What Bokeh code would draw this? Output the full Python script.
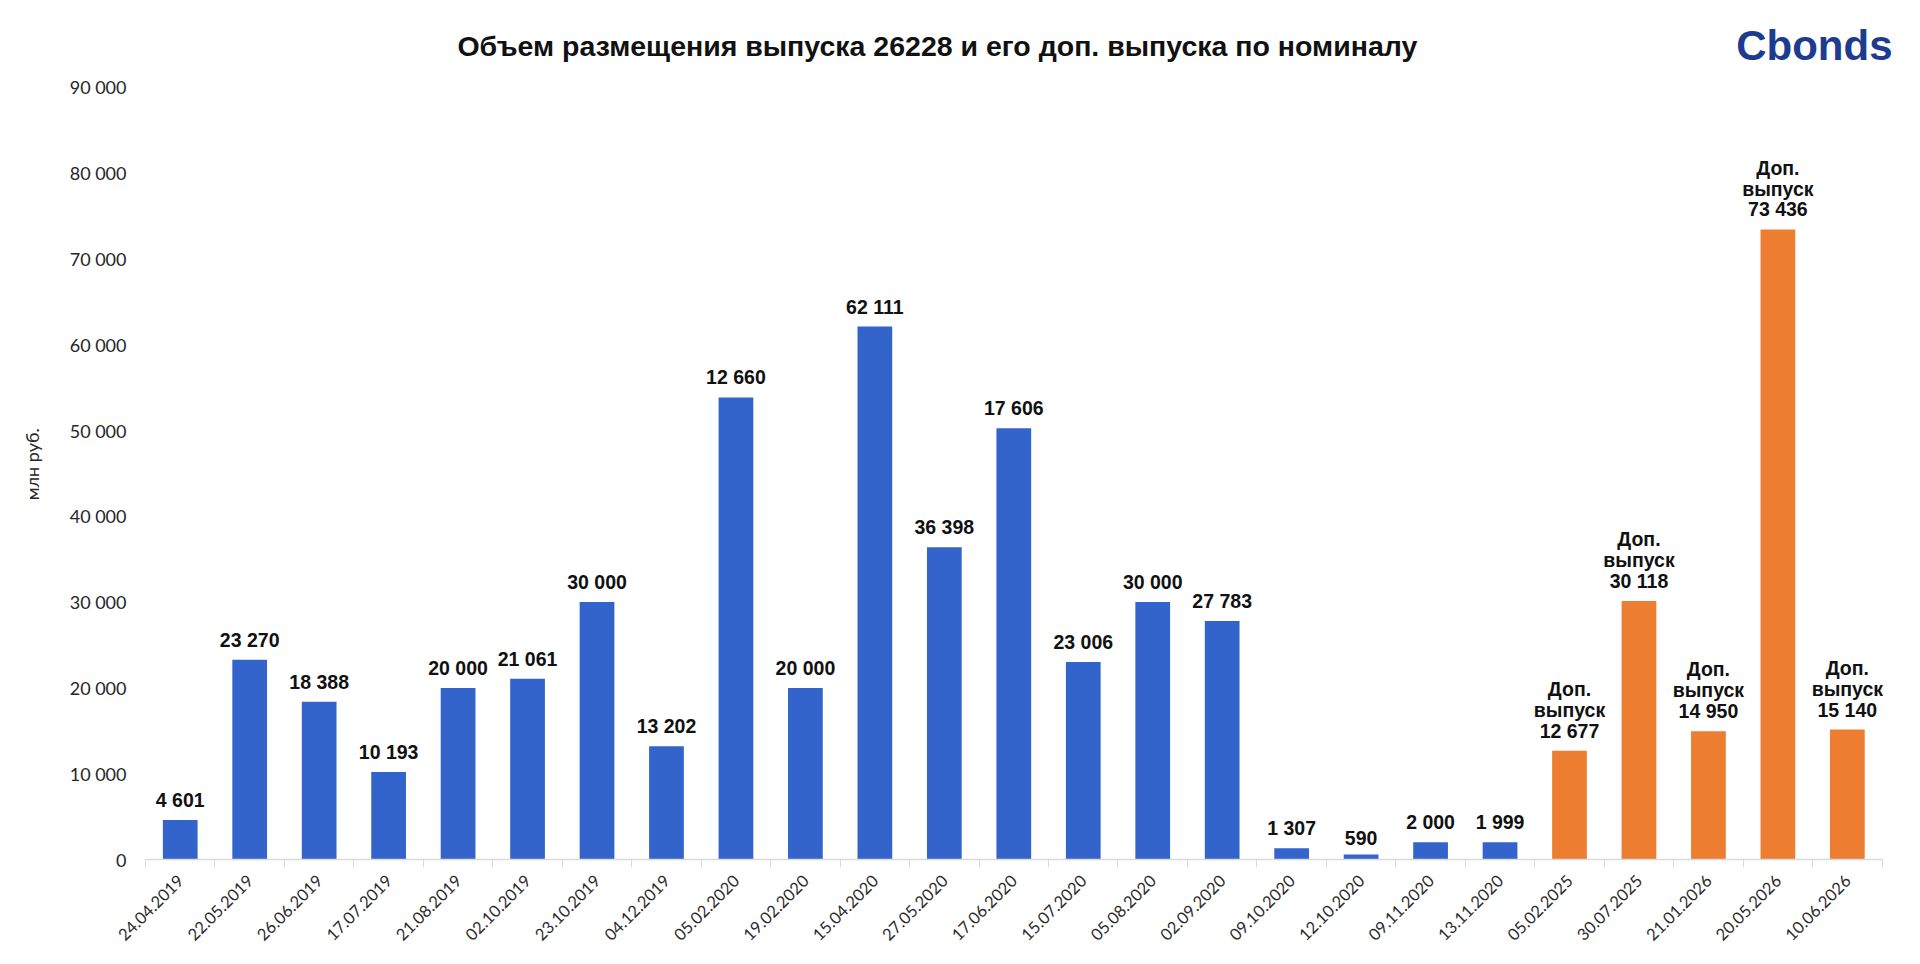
import math
from bokeh.plotting import figure
from bokeh.models import Range1d, FixedTicker, CustomJSTickFormatter, ColumnDataSource, Label
from bokeh.embed import file_html
from bokeh.resources import INLINE
from bokeh.core.properties import value

# ---------------- data ----------------
dates = ["24.04.2019", "22.05.2019", "26.06.2019", "17.07.2019", "21.08.2019",
         "02.10.2019", "23.10.2019", "04.12.2019", "05.02.2020", "19.02.2020",
         "15.04.2020", "27.05.2020", "17.06.2020", "15.07.2020", "05.08.2020",
         "02.09.2020", "09.10.2020", "12.10.2020", "09.11.2020", "13.11.2020",
         "05.02.2025", "30.07.2025", "21.01.2026", "20.05.2026", "10.06.2026"]
bar_values = [4601, 23270, 18388, 10193, 20000, 21061, 30000, 13202, 53850, 20000,
              62111, 36398, 50250, 23006, 30000, 27783, 1307, 590, 2000, 1999,
              12677, 30118, 14950, 73436, 15140]
label_values = [4601, 23270, 18388, 10193, 20000, 21061, 30000, 13202, 12660, 20000,
                62111, 36398, 17606, 23006, 30000, 27783, 1307, 590, 2000, 1999,
                12677, 30118, 14950, 73436, 15140]
issue_type = ["main"] * 20 + ["tap"] * 5
y_ticks = [0, 10000, 20000, 30000, 40000, 50000, 60000, 70000, 80000, 90000]
tap_prefix = "Доп.\nвыпуск\n"
title_text = "Объем размещения выпуска 26228 и его доп. выпуска по номиналу"
y_label = "млн руб."
logo_text = "Cbonds"

# ---------------- styling ----------------
BLUE = "#3264CC"
ORANGE = "#ED7D31"
color_map = {"main": BLUE, "tap": ORANGE}


def fmt(v):
    return f"{v:,}".replace(",", " ")


n = len(dates)
xs = [i + 0.5 for i in range(n)]
texts = [(tap_prefix if t == "tap" else "") + fmt(v) for t, v in zip(issue_type, label_values)]
colors = [color_map[t] for t in issue_type]

src = ColumnDataSource(dict(x=xs, top=bar_values, lab=texts, color=colors))

# ranges extend a little beyond the data so the title and logo sit inside the frame
p = figure(width=1912, height=956, output_backend="svg", toolbar_location=None,
           x_range=Range1d(0, n + 0.15), y_range=Range1d(0, 100000),
           min_border_left=145, min_border_right=20, min_border_top=1, min_border_bottom=97)
p.grid.visible = False
p.outline_line_color = None
p.background_fill_color = "white"
p.border_fill_color = "white"

p.vbar(x="x", top="top", width=0.5, color="color", source=src, line_color=None)
p.text(x="x", y="top", text="lab", source=src, text_align="center", text_baseline="bottom",
       y_offset=-9, text_font=value("Liberation Sans"), text_font_style="bold",
       text_font_size="19.5px", text_color="#111111", text_line_height=0.95)

# x axis
xa = p.xaxis[0]
xa.bounds = (0, n)
xa.ticker = FixedTicker(ticks=xs, minor_ticks=list(range(n + 1)))
xa.formatter = CustomJSTickFormatter(args=dict(labels=dates),
                                     code="return labels[Math.floor(tick)];")
xa.major_tick_line_color = None
xa.major_tick_out = 0
xa.minor_tick_line_color = "#d9d9d9"
xa.minor_tick_out = 8
xa.minor_tick_in = 0
xa.axis_line_color = "#d9d9d9"
xa.axis_line_width = 1.5
xa.major_label_orientation = math.pi / 4
xa.major_label_standoff = 10
xa.major_label_text_font = "Lato"
xa.major_label_text_font_size = "16.5px"
xa.major_label_text_color = "#2b2b2b"

# y axis
ya = p.yaxis[0]
ya.ticker = FixedTicker(ticks=y_ticks)
ya.formatter = CustomJSTickFormatter(code="return tick.toString().replace(/\\B(?=(\\d{3})+(?!\\d))/g, ' ');")
ya.axis_line_color = None
ya.major_tick_line_color = None
ya.major_tick_out = 0
ya.minor_tick_line_color = None
ya.minor_tick_out = 0
ya.major_label_standoff = 19
ya.major_label_text_font = "Lato"
ya.major_label_text_font_size = "18px"
ya.major_label_text_color = "#262626"
# em spaces after the label push the visible text down to the centre of the 0-90 000 span
ya.axis_label = y_label + "\u2003" * 5
ya.axis_label_text_font = "Lato"
ya.axis_label_text_font_style = "normal"
ya.axis_label_text_font_size = "18px"
ya.axis_label_text_color = "#262626"
ya.axis_label_standoff = 24

# title
p.add_layout(Label(x=11.40, y=94870, text=title_text, text_align="center", text_baseline="middle",
                   text_font="Liberation Sans", text_font_style="bold", text_font_size="28.5px",
                   text_color="#111111"))
# logo
p.add_layout(Label(x=n + 0.15, y=94870, text=logo_text, text_align="right",
                   text_baseline="alphabetic", text_font="Liberation Sans", text_font_style="bold",
                   text_font_size="42px", text_color="#1E3C8F"))

open("out.html", "w").write(file_html(p, INLINE))
